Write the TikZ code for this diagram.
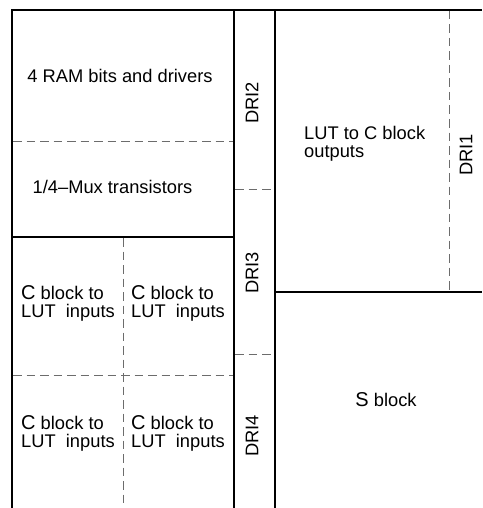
\documentclass[tikz,border=0pt]{standalone}
\usepackage{fontspec}
\setmainfont{Liberation Sans}
\newcommand{\bigLetter}[1]{{\fontsize{20}{18.5}\selectfont #1}}
\begin{document}
\begin{tikzpicture}[x=1pt,y=-1pt,
  solid line/.style={black,line width=1.1pt},
  thick line/.style={black,line width=1.7pt},
  dash line/.style={gray!85!black,line width=1pt,dash pattern=on 8.5pt off 5pt},
  lbl/.style={font=\fontsize{18.3}{18.5}\selectfont,inner sep=0pt},
  rlbl/.style={lbl,rotate=90}]
\useasboundingbox (0,0) rectangle (482,508);
\fill[white] (0,0) rectangle (482,508);
% solid lines
\draw[solid line] (12,10) -- (482,10);
\draw[thick line] (12,9.5) -- (12,508);
\draw[thick line] (234,9.5) -- (234,508);
\draw[solid line] (275,10) -- (275,508);
\draw[solid line] (12,237) -- (234,237);
\draw[solid line] (275,292) -- (482,292);
% dashed lines
\draw[dash line] (13,141) -- (233,141);
\draw[dash line] (235,189) -- (275,189);
\draw[dash line] (235,354) -- (275,354);
\draw[dash line] (123,238) -- (123,508);
\draw[dash line] (13,375) -- (233,375);
\draw[dash line] (449,11) -- (449,292);
% labels
\node[lbl,anchor=base] (ram) at (120,83) {4 RAM bits and drivers};
\node[lbl,anchor=base] (mux) at (112.5,193) {1/4–Mux transistors};
\node[rlbl] (dri2) at (252,103) {DRI2};
\node[rlbl] (dri3) at (252,273) {DRI3};
\node[rlbl] (dri4) at (252,436) {DRI4};
\node[rlbl] (dri1) at (466,155) {DRI1};
\node[lbl,anchor=north west,align=left] (lut) at (304,126) {LUT to C block\\outputs};
\node[lbl,anchor=north west,align=left] (c1) at (21,285) {\bigLetter{C} block to\\LUT\ \ inputs};
\node[lbl,anchor=north west,align=left] (c2) at (131,285) {\bigLetter{C} block to\\LUT\ \ inputs};
\node[lbl,anchor=north west,align=left] (c3) at (21,415) {\bigLetter{C} block to\\LUT\ \ inputs};
\node[lbl,anchor=north west,align=left] (c4) at (131,415) {\bigLetter{C} block to\\LUT\ \ inputs};
\node[lbl,anchor=base] (sblk) at (386,406) {\bigLetter{S} block};
\end{tikzpicture}
\end{document}
